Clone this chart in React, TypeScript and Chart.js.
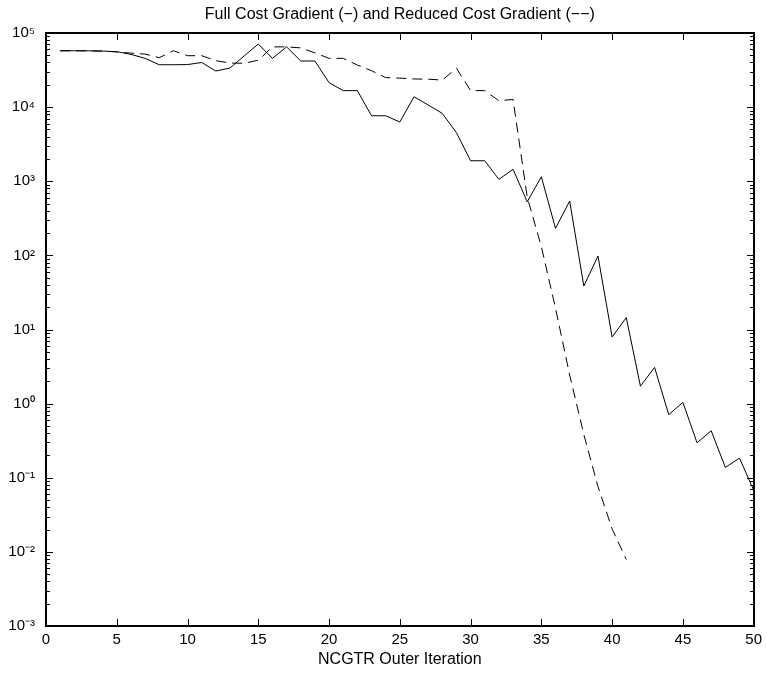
import React, { useEffect, useRef } from "react";
import { Chart, registerables } from "chart.js";

Chart.register(...registerables);

const titleText = "Full Cost Gradient (\u2212) and Reduced Cost Gradient (\u2212\u2212)";
const xAxisLabel = "NCGTR Outer Iteration";

const fullIterations = [
  1, 2, 3, 4, 5, 6, 7, 8, 9, 10, 11, 12, 13, 14, 15, 16, 17, 18, 19, 20, 21, 22, 23, 24, 25,
  26, 27, 28, 29, 30, 31, 32, 33, 34, 35, 36, 37, 38, 39, 40, 41, 42, 43, 44, 45, 46, 47, 48, 49, 50,
];
const fullGradient = [
  57600, 57600, 57500, 57000, 56000, 51500, 45500, 37300, 37300, 37500,
  40000, 30700, 33700, 49000, 71000, 45500, 65000, 41900, 41900, 21400,
  16700, 16700, 7650, 7650, 6300, 13800, 10700, 8240, 4520, 1890,
  1890, 1060, 1450, 528, 1150, 231, 541, 38.6, 98, 7.9,
  14.5, 1.72, 3.08, 0.71, 1.04, 0.296, 0.43, 0.138, 0.184, 0.068,
];

const reducedIterations = [
  1, 2, 3, 4, 5, 6, 7, 8, 9, 10, 11, 12, 13, 14, 15, 16, 17, 18, 19, 20, 21,
  22, 23, 24, 25, 26, 27, 28, 29, 30, 31, 32, 33, 34, 35, 36, 37, 38, 39, 40, 41,
];
const reducedGradient = [
  57600, 57600, 57500, 57000, 55500, 53500, 52000, 46400, 57600, 49400,
  49400, 42300, 39400, 39000, 43000, 65000, 65000, 63000, 54000, 45500,
  45500, 37000, 31000, 25000, 24600, 24000, 23800, 23200, 33400, 16700,
  16700, 12200, 12700, 612, 131, 19.4, 2.43, 0.384, 0.076, 0.0204,
  0.0079,
];

const xTickValues = [0, 5, 10, 15, 20, 25, 30, 35, 40, 45, 50];
const yTickValues = [1e-3, 1e-2, 1e-1, 1e0, 1e1, 1e2, 1e3, 1e4, 1e5];
const yMinorMultipliers = [2, 3, 4, 5, 6, 7, 8, 9];

const FONT = "'Liberation Sans', Arial, Helvetica, sans-serif";

const SUP: Record<string, string> = {
  "-": "\u207B", "0": "\u2070", "1": "\u00B9", "2": "\u00B2", "3": "\u00B3",
  "4": "\u2074", "5": "\u2075", "6": "\u2076", "7": "\u2077", "8": "\u2078", "9": "\u2079",
};
const toSup = (s: string) => s.split("").map((c) => SUP[c] ?? c).join("");

const matlabAxes = {
  id: "matlabAxes",
  afterDraw(chart: any) {
    const ctx = chart.ctx as CanvasRenderingContext2D;
    const { left, right, top, bottom } = chart.chartArea;
    const xs = chart.scales.x;
    const ys = chart.scales.y;
    ctx.save();
    ctx.fillStyle = "#000";
    const L = Math.round(left);
    const R = Math.round(right);
    const T = Math.round(top);
    const B = Math.round(bottom);
    for (const v of xTickValues) {
      const px = Math.round(xs.getPixelForValue(v));
      ctx.fillRect(px, B - 7, 1, 7);
      ctx.fillRect(px, T, 1, 7);
    }
    for (const major of yTickValues) {
      const py = Math.round(ys.getPixelForValue(major));
      ctx.fillRect(L, py, 7, 1);
      ctx.fillRect(R - 7, py, 7, 1);
      if (major < 1e5) {
        for (const m of yMinorMultipliers) {
          const pm = Math.round(ys.getPixelForValue(major * m));
          ctx.fillRect(L, pm, 4, 1);
          ctx.fillRect(R - 4, pm, 4, 1);
        }
      }
    }
    ctx.fillRect(L - 1, T - 1, R - L + 2, 2);
    ctx.fillRect(L - 1, B - 1, R - L + 2, 2);
    ctx.fillRect(L - 1, T - 1, 2, B - T + 2);
    ctx.fillRect(R - 1, T - 1, 2, B - T + 2);
    ctx.restore();
  },
};

export default function App() {
  const canvasRef = useRef<HTMLCanvasElement | null>(null);

  useEffect(() => {
    document.body.style.margin = "0";
    const canvas = canvasRef.current;
    if (!canvas) return;
    const chart = new Chart(canvas, {
      type: "line",
      data: {
        datasets: [
          {
            label: "Full Cost Gradient",
            data: fullIterations.map((x, i) => ({ x, y: fullGradient[i] })),
            borderColor: "#000",
            borderWidth: 1,
            pointRadius: 0,
            tension: 0,
            fill: false,
          },
          {
            label: "Reduced Cost Gradient",
            data: reducedIterations.map((x, i) => ({ x, y: reducedGradient[i] })),
            borderColor: "#000",
            borderWidth: 1,
            borderDash: [10, 6],
            pointRadius: 0,
            tension: 0,
            fill: false,
          },
        ],
      },
      options: {
        animation: false,
        responsive: false,
        devicePixelRatio: 1,
        layout: { padding: { left: 0, right: 10, top: 0, bottom: 0 } },
        plugins: {
          legend: { display: false },
          tooltip: { enabled: false },
          title: {
            display: true,
            text: titleText,
            color: "#000",
            fullSize: false,
            font: { family: FONT, size: 16, weight: "normal" },
            padding: { top: 5, bottom: 8.8 },
          },
        },
        scales: {
          x: {
            type: "linear",
            min: 0,
            max: 50,
            grid: { display: false, drawTicks: false },
            border: { display: false },
            afterBuildTicks: (scale: any) => {
              scale.ticks = xTickValues.map((v) => ({ value: v }));
            },
            afterFit: (scale: any) => {
              scale.height = 47;
            },
            ticks: {
              color: "#000",
              font: { family: FONT, size: 15 },
              padding: 5,
              autoSkip: false,
              maxRotation: 0,
            },
            title: {
              display: true,
              text: xAxisLabel,
              color: "#000",
              font: { family: FONT, size: 16 },
              padding: { top: 0, bottom: 4 },
            },
          },
          y: {
            type: "logarithmic",
            min: 1e-3,
            max: 1e5,
            grid: { display: false, drawTicks: false },
            border: { display: false },
            afterBuildTicks: (scale: any) => {
              scale.ticks = yTickValues.map((v) => ({ value: v }));
            },
            afterFit: (scale: any) => {
              scale.width = 46;
            },
            ticks: {
              color: "#000",
              font: { family: FONT, size: 15 },
              padding: 11,
              autoSkip: false,
              callback: (value: any) => {
                const e = Math.round(Math.log10(Number(value)));
                return "10" + toSup(String(e));
              },
            },
          },
        },
      },
      plugins: [matlabAxes],
    } as any);
    return () => chart.destroy();
  }, []);

  return (
    <div style={{ width: 767, height: 673 }}>
      <canvas ref={canvasRef} width={767} height={673} />
    </div>
  );
}
